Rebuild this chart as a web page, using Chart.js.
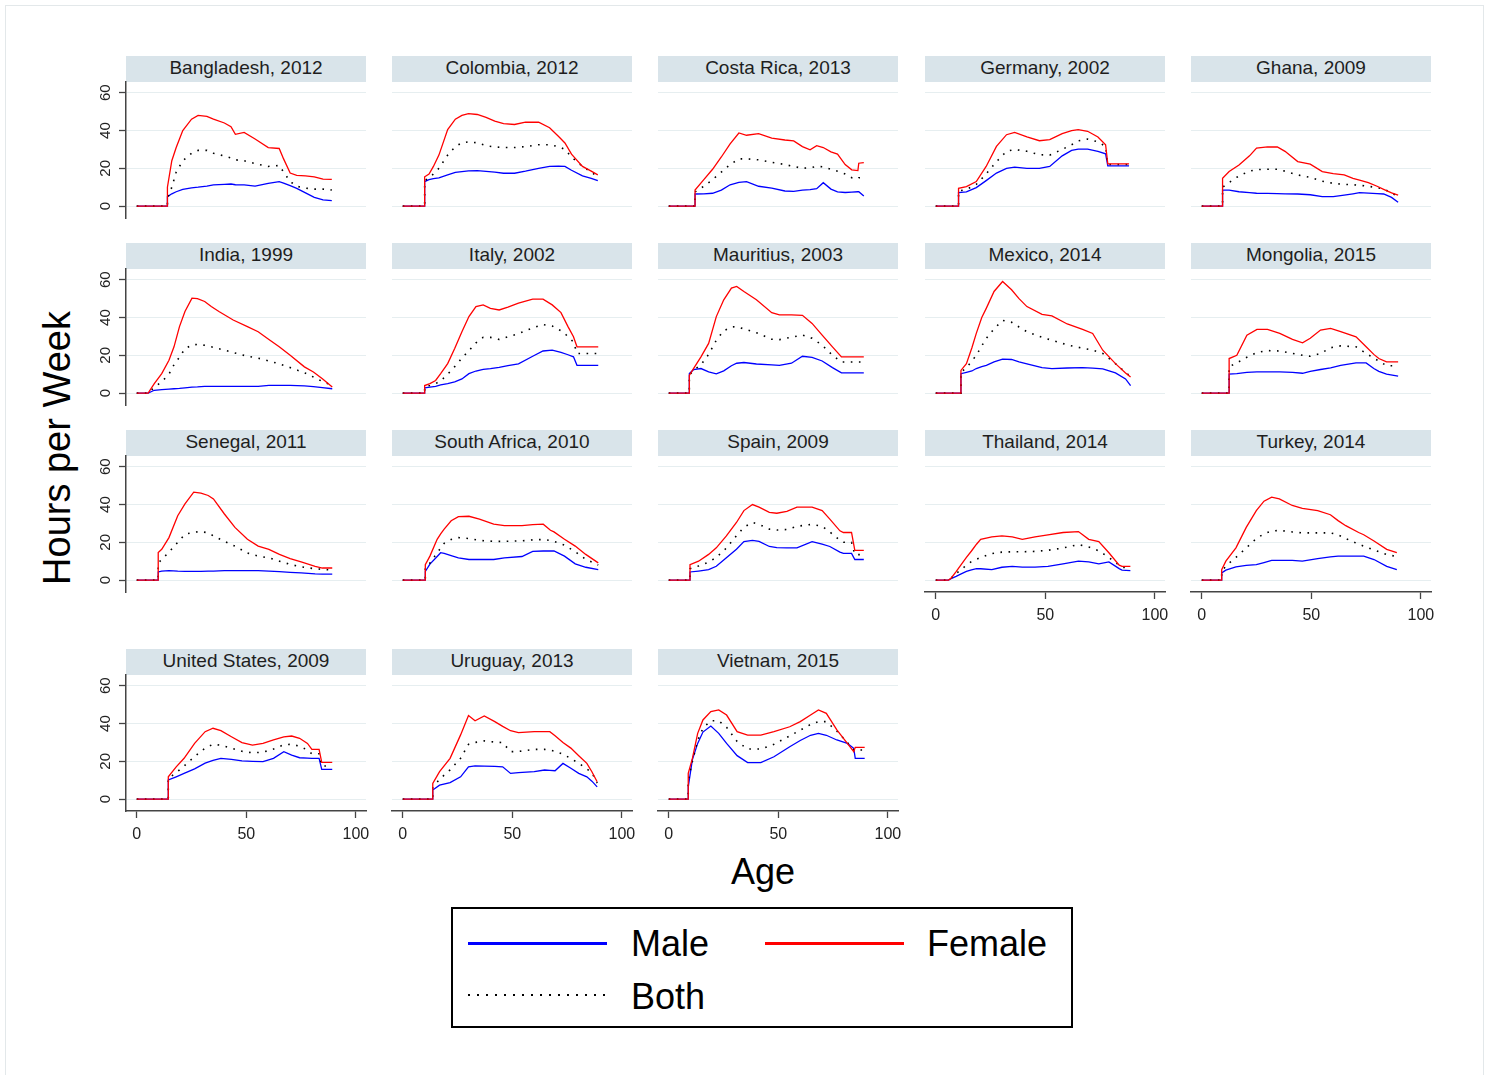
<!DOCTYPE html>
<html>
<head>
<meta charset="utf-8">
<script src="https://cdn.jsdelivr.net/npm/chart.js@4.4.0/dist/chart.umd.min.js"></script>
<style>
  body { margin: 0; background: #fff; font-family: "Liberation Sans", Arial, sans-serif; }
  #page { position: relative; width: 1491px; height: 1075px; overflow: hidden; }
  .frame { position: absolute; left: 5px; top: 5px; width: 1477px; height: 1100px; border: 1px solid #e3e8ea; }
  .strip { position: absolute; height: 26px; line-height: 24px; background: #d9e4ea; text-align: center; font-size: 19px; color: #1e1e1e; white-space: nowrap; }
  canvas { position: absolute; }
  .label { position: absolute; color: #000; white-space: nowrap; }
  .legend-box { position: absolute; left: 451px; top: 907px; width: 622px; height: 121px; border: 2px solid #000; box-sizing: border-box; }
  .sample { position: absolute; width: 139px; }
</style>
</head>
<body>
<div id="page">
  <div class="frame"></div>
  <div class="label" style="left:-143px;top:426px;width:400px;height:44px;line-height:44px;text-align:center;font-size:38px;transform:rotate(-90deg);">Hours per Week</div>
  <div class="label" style="left:663px;top:850px;width:200px;height:44px;line-height:44px;text-align:center;font-size:36px;">Age</div>
  <div class="legend-box"></div>
  <div class="sample" style="left:468px;top:942px;height:3px;background:#0000ff;"></div>
  <div class="sample" style="left:765px;top:942px;height:3px;background:#ff0000;"></div>
  <div class="sample" style="left:468px;top:994px;height:2px;background:repeating-linear-gradient(to right,#000 0 2px,transparent 2px 9px);"></div>
  <div class="label" style="left:631px;top:922px;height:44px;line-height:44px;font-size:36px;">Male</div>
  <div class="label" style="left:927px;top:922px;height:44px;line-height:44px;font-size:36px;">Female</div>
  <div class="label" style="left:631px;top:975px;height:44px;line-height:44px;font-size:36px;">Both</div>
</div>
<script>
// panel titles, row by row (5 per row)
const countries = [
  'Bangladesh, 2012', 'Colombia, 2012', 'Costa Rica, 2013', 'Germany, 2002', 'Ghana, 2009',
  'India, 1999', 'Italy, 2002', 'Mauritius, 2003', 'Mexico, 2014', 'Mongolia, 2015',
  'Senegal, 2011', 'South Africa, 2010', 'Spain, 2009', 'Thailand, 2014', 'Turkey, 2014',
  'United States, 2009', 'Uruguay, 2013', 'Vietnam, 2015'
];

// age points of each panel (same order as countries)
const ages = [
  [0, 14, 14, 16, 18, 21, 25, 28, 32, 35, 40, 43, 45, 49, 54, 60, 65, 67, 70, 73, 77, 81, 85, 89],
  [0, 10, 10, 12, 14, 16.5, 20.5, 24, 27, 30, 34, 38, 42, 46, 51, 56, 62, 67, 71, 74, 77, 82, 86, 89],
  [0, 12, 12, 16, 20, 24, 28, 32, 35.5, 41, 47, 53, 57, 61, 64.5, 67.5, 70.5, 74, 77, 80.5, 83.5, 86.3, 86.7, 89],
  [0, 10.4, 10.4, 14, 18.5, 23, 27.7, 32.3, 36, 41.6, 47.3, 52, 57.7, 62, 65, 69.3, 74, 77.5, 78.5, 88.2],
  [0, 9.5, 9.5, 12.5, 17, 21.8, 25, 30, 34.5, 38, 43.8, 49.5, 55, 60, 65, 69, 72, 76, 80, 83, 86.6, 89.6],
  [0, 5.2, 8, 11.4, 14.7, 17, 19.5, 22, 25.2, 27.7, 31, 34, 37.5, 44, 50.5, 55.4, 60.3, 65, 70, 76.5, 80.6, 84.7, 89.2],
  [0, 10, 10, 12.4, 15, 17.3, 20.5, 23.7, 27, 30.2, 33.4, 36.7, 40, 44, 48, 52.8, 59.3, 64, 68.2, 72.2, 75.4, 77.9, 79.5, 89.2],
  [0, 9.4, 9.4, 11.3, 14.7, 18.2, 21.7, 25.1, 28.6, 31, 34.3, 40, 47, 50.5, 56, 61, 65.4, 70, 74.7, 78.8, 89],
  [0, 11.5, 11.5, 14, 16.5, 18.5, 21, 23.1, 26.6, 30.5, 34.6, 38, 41.6, 48.5, 53, 60, 67, 71.6, 76.2, 82, 86.6, 88.9],
  [0, 12.5, 12.5, 16, 20.6, 25.2, 30, 35.6, 41.4, 46, 49.5, 54.2, 58.8, 63.4, 70.4, 75, 78.5, 80.8, 84.3, 89.6],
  [0, 9.8, 9.8, 11.4, 14.7, 18.7, 22, 26, 29.3, 32.6, 35, 40, 44.8, 50.5, 55.4, 60.3, 65.1, 70, 75, 81.4, 84.7, 89.2],
  [0, 10.3, 10.3, 12.4, 15.7, 17.3, 18.9, 22.1, 25.4, 30.2, 35, 41.5, 46.4, 54.4, 59.3, 64.1, 67.4, 69, 73.8, 78.7, 83.5, 89.2],
  [0, 9.7, 9.7, 13.6, 18.2, 21.7, 26.3, 30.9, 34.3, 38.2, 41.2, 45.9, 49.3, 53.9, 58.5, 65.4, 70, 73.5, 78.1, 79.7, 83.4, 84.9, 89],
  [0, 5.8, 7, 9.3, 11.6, 14, 16.3, 18.6, 20.5, 25.6, 30.2, 34.9, 39.5, 45.3, 51.2, 58.1, 65.1, 69.8, 74.4, 79, 83.7, 85, 88.8],
  [0, 9.1, 9.1, 11, 15.6, 20.3, 24.9, 28.4, 31.9, 35.4, 41.3, 45.9, 52.9, 58.7, 62.2, 65.7, 71.6, 73.9, 78.6, 84.4, 89],
  [0, 14.4, 14.4, 18, 21.6, 26.4, 31.2, 34.8, 38.4, 43.2, 48, 52.8, 57.6, 62.4, 67.1, 70.7, 74.3, 77.9, 79.9, 83.2, 84.4, 89.2],
  [0, 13.7, 13.7, 16.8, 21.6, 26.4, 30, 33, 37.2, 42, 45.6, 49.2, 52.8, 60, 64.7, 67.1, 69.5, 73.1, 76.7, 80.3, 84, 86.3, 88.7],
  [0, 8.9, 8.9, 10.8, 13.2, 15.6, 19.2, 22.8, 26.4, 31.2, 36, 42, 48, 55.2, 60, 64.7, 68.3, 71.9, 76.7, 81.5, 84.4, 85.1, 89.4]
];

const maleHours = [
  [0, 0, 5, 6.5, 7.6, 8.8, 9.7, 10, 10.6, 11.2, 11.5, 11.7, 11.3, 11.2, 10.6, 12, 13, 12.2, 10.8, 9.4, 7, 4.6, 3.3, 2.9],
  [0, 0, 13, 14, 14.5, 15, 16.5, 17.8, 18.3, 18.6, 18.8, 18.4, 18, 17.4, 17.4, 18.5, 20, 21, 21.2, 21, 19, 16, 14.7, 13.5],
  [0, 0, 6.4, 6.5, 6.8, 8.5, 11.3, 12.6, 13, 10.5, 9.5, 8, 7.8, 8.5, 8.7, 9.2, 12.4, 9, 7.5, 7.2, 7.4, 7.6, 7.6, 5.3],
  [0, 0, 7.1, 7.5, 9.8, 13.5, 17.5, 20, 20.6, 20, 20, 21, 26.6, 29.5, 30.2, 30.2, 29, 27.7, 21.3, 21.3],
  [0, 0, 8.5, 8.5, 7.6, 7.1, 6.8, 6.7, 6.6, 6.5, 6.4, 6, 5, 5, 5.8, 6.5, 7.1, 6.9, 6.6, 6.4, 4.6, 2],
  [0, 0, 1.5, 1.8, 2.1, 2.3, 2.5, 2.8, 3.2, 3.3, 3.6, 3.6, 3.6, 3.6, 3.6, 3.6, 4.1, 4.1, 4.1, 3.8, 3.4, 2.9, 2.3],
  [0, 0, 2.8, 3.2, 3.6, 4.3, 5, 6, 7.5, 10.3, 11.7, 12.6, 13, 13.6, 14.5, 15.5, 19.5, 22.3, 22.7, 21.5, 20.3, 19.2, 14.7, 14.7],
  [0, 0, 10.3, 12.4, 13, 11.2, 10.2, 11.8, 14.5, 15.8, 16.2, 15.4, 14.9, 14.7, 15.8, 19.5, 18.9, 17, 13.5, 10.7, 10.7],
  [0, 0, 10.3, 11, 11.7, 13, 14, 14.7, 16.5, 18, 17.8, 16.5, 15.5, 13.5, 13, 13.3, 13.5, 13.2, 12.8, 10.7, 7.5, 4],
  [0, 0, 10, 10.3, 11, 11.2, 11.2, 11.2, 11, 10.5, 11.5, 12.5, 13.3, 14.7, 16, 16, 13, 11.5, 10, 9],
  [0, 0, 4.3, 4.8, 5, 4.7, 4.6, 4.6, 4.6, 4.7, 4.8, 5, 5, 5, 5, 4.7, 4.5, 4.1, 3.8, 3.3, 3.2, 3.2],
  [0, 0, 4.6, 8.5, 12.5, 14.5, 14.2, 13, 11.8, 10.9, 10.9, 10.9, 11.8, 12.5, 15.2, 15.4, 15.4, 15.4, 12.7, 8.6, 6.8, 5.5],
  [0, 0, 4.3, 4.8, 5.5, 7.3, 11.8, 16.3, 20.4, 21, 20.5, 17.8, 17.2, 17.1, 17.1, 20.4, 19, 17.8, 14.8, 14.1, 14.1, 10.9, 10.9],
  [0, 0, 0.8, 2, 3.3, 4.6, 5.4, 6.1, 6, 5.5, 6.8, 7.3, 6.9, 6.9, 7.3, 8.6, 10, 9.6, 8.6, 9.6, 6.1, 5.3, 5],
  [0, 0, 3.8, 5.3, 7, 7.8, 8.2, 9.3, 10.4, 10.4, 10.4, 10, 11.4, 12.3, 12.7, 12.7, 12.7, 12.7, 10.9, 7.3, 5.5],
  [0, 0, 10.1, 11.8, 13.6, 16, 19, 20.5, 21.6, 21, 20.2, 20, 19.8, 21.6, 25.1, 23.3, 21.9, 21.7, 21.6, 21.6, 15.7, 15.7],
  [0, 0, 4.8, 7.4, 8.7, 11.8, 17.1, 17.6, 17.5, 17.3, 17.1, 13.6, 14, 14.5, 15.4, 15.2, 15, 18.9, 16.3, 13.6, 11.8, 9.5, 6.5],
  [0, 0, 6.5, 21, 29.5, 35.5, 38.7, 34.8, 29.5, 23, 19.3, 19.3, 22.4, 27.7, 31, 33.8, 34.8, 33.8, 31.3, 29.5, 26.9, 21.6, 21.6]
];

const femaleHours = [
  [0, 0, 10, 24, 31, 40, 46, 48, 47.5, 46, 44, 42, 38, 39, 35.5, 31, 30.5, 25, 17.5, 16.3, 16, 15.5, 14.3, 14.2],
  [0, 0, 15.5, 17, 21, 27, 40.5, 46, 48, 49, 48.5, 47, 45, 43.7, 43.2, 44.4, 44.4, 41.5, 37, 33.4, 27.5, 21, 18.5, 16.5],
  [0, 0, 8.5, 14, 19.5, 26, 33, 38.7, 37.5, 38.4, 36, 35, 34.5, 31.5, 29.8, 32, 31, 28.7, 27.5, 22, 19.2, 18.8, 22.7, 23],
  [0, 0, 9.4, 10.3, 13, 21, 31.6, 37.8, 39, 36.6, 34.6, 35.2, 38.4, 40, 40.5, 39.6, 36.6, 32.5, 22.4, 22.4],
  [0, 0, 14.7, 18.3, 21.8, 26.6, 30.7, 31.3, 31.3, 29, 23.6, 22.2, 18.3, 17.2, 16.5, 14.7, 13.8, 12.4, 10.5, 8.9, 7, 5.8],
  [0, 0, 5, 10.3, 17.4, 24.5, 35.2, 43.2, 50.3, 50, 48.5, 45.8, 43.2, 38.7, 35.2, 32.5, 28.4, 24.5, 20, 13.9, 11.2, 7.6, 3.2],
  [0, 0, 4, 5, 6.7, 10.3, 15.6, 23.6, 32.5, 40.5, 45.8, 46.7, 44.9, 44, 45.5, 47.6, 49.7, 49.7, 46.7, 42.6, 35.2, 29.8, 24.5, 24.5],
  [0, 0, 9.4, 13, 19.2, 26.3, 40.5, 49.4, 55.6, 56.5, 53.8, 49.4, 42.6, 41.4, 41.4, 41.2, 36.9, 30.7, 24.5, 19.2, 19.2],
  [0, 0, 12, 15.6, 24, 31.6, 40, 45, 53.8, 59.1, 54.7, 50, 45.8, 41.7, 40.9, 36.6, 33.7, 31.6, 22.7, 15.6, 10.7, 8.5],
  [0, 0, 18.3, 20, 30.7, 33.7, 33.7, 31.6, 28.4, 26.6, 29, 33.4, 34.3, 32.5, 29.8, 24.5, 20.5, 18.3, 16.5, 16.5],
  [0, 0, 14.6, 16.3, 22.5, 34.1, 40.4, 46.6, 46, 44.8, 43, 35, 27.9, 21.6, 18, 16.3, 13.6, 11.4, 9.6, 7.3, 6.4, 6.4],
  [0, 0, 8.2, 12.7, 21.6, 24.5, 27, 31.4, 33.6, 33.8, 32.3, 29.6, 28.8, 28.8, 29.4, 29.6, 26.4, 25.5, 21.6, 18, 13.6, 9.1],
  [0, 0, 8.2, 10, 13.6, 17.1, 23.4, 30.5, 36.8, 40, 38.6, 35.9, 35.4, 36.4, 38.6, 38.6, 36.8, 32.3, 26.1, 25.2, 25.2, 15.7, 15.7],
  [0, 0, 1, 4.5, 8.2, 12, 15.4, 19, 21.6, 22.9, 23.4, 22.9, 21.6, 22.9, 23.9, 25.2, 25.7, 21.6, 20.4, 14.5, 7.9, 7.3, 7.3],
  [0, 0, 5.5, 10, 17.1, 27.9, 36.8, 41.8, 43.9, 43, 39.5, 38, 36.8, 34.6, 31.5, 28.8, 25.2, 24, 20.7, 16.3, 14.5],
  [0, 0, 11.8, 17.1, 21.6, 29.5, 35.7, 37.5, 36.2, 33, 29.9, 28.6, 29.5, 31.3, 33, 33.4, 32.2, 29.5, 26.3, 26.3, 19.4, 19.4],
  [0, 0, 8.3, 14.5, 21.6, 34, 44.2, 41.5, 44, 41, 38.5, 36.2, 35.2, 35.7, 35.7, 35.7, 33.5, 30, 27, 23, 18.9, 14.5, 9.2],
  [0, 0, 13.6, 21.6, 34.8, 41.9, 46.3, 47.2, 44.5, 35.7, 33.9, 33.9, 35.7, 38.3, 41, 44.5, 47.2, 45.4, 36.6, 29.5, 25.1, 27.4, 27.4]
];

const bothHours = [
  [0, 0, 4, 10, 18, 24, 28, 29.5, 29.5, 28, 26.5, 25.5, 24.5, 24, 22.5, 21, 21.5, 18, 13, 10.5, 9.5, 9, 9, 8.5],
  [0, 0, 13.5, 15, 17, 20, 27, 31.5, 33.5, 34, 33.5, 32, 31.3, 31, 31, 31.5, 32.5, 32.5, 31.5, 30, 26, 21, 18, 15.5],
  [0, 0, 7.5, 10.5, 14, 18, 22, 25, 25, 24.5, 23.2, 22, 21, 20, 20.3, 21, 20.8, 19.5, 18.5, 17, 15, 14.5, 15, 15],
  [0, 0, 8, 8.8, 11.5, 17, 23.5, 29, 30, 29, 27.2, 27, 30, 32.5, 34.5, 35.5, 34, 31.6, 22, 22],
  [0, 0, 10, 12.5, 16, 18.5, 19.3, 19.5, 19.5, 18.5, 16.5, 15.2, 13.2, 12, 11.5, 11.3, 11, 10.5, 9.8, 9, 7, 5],
  [0, 0, 3, 6, 10, 15, 19, 23.5, 25.5, 25.8, 25.3, 24.5, 23.5, 21.5, 19.5, 18.5, 17, 15.5, 13.5, 10.8, 8.5, 6.2, 4],
  [0, 0, 3.5, 4, 5, 6.5, 10, 14, 18.5, 22.5, 26.6, 29.5, 29.5, 28.4, 29.8, 31.5, 34.5, 36.3, 35.5, 33, 30, 27, 21, 21],
  [0, 0, 9.5, 12, 15, 20.5, 28, 33, 35, 35.2, 34, 32, 28.5, 28.3, 29.6, 30.7, 29, 25.4, 20, 16.5, 16.5],
  [0, 0, 11, 13.5, 17, 20, 25, 29, 34, 38.5, 37.5, 35, 32.5, 29.5, 28, 25.5, 23.8, 22.8, 21, 15.6, 11, 8.8],
  [0, 0, 14, 16, 19, 21.5, 22.5, 22.3, 21, 20, 19.5, 21, 24, 25, 24.5, 21, 18.5, 17, 14.5, 14.5],
  [0, 0, 9, 11, 14.8, 20, 24.3, 25.3, 25.7, 25, 23.4, 20.5, 18, 14.3, 12.7, 11.8, 10, 8.3, 7, 6, 5.7, 5.3],
  [0, 0, 6, 9, 14.5, 17, 19.5, 21.5, 22.5, 22, 21, 20.5, 20.5, 20.8, 21.3, 21.5, 21, 20.5, 18.5, 15, 11, 8],
  [0, 0, 6, 7.5, 9.5, 12, 17, 23.5, 28, 30.5, 29.5, 27, 26.5, 26.8, 28.5, 29.5, 28.5, 25.5, 21, 20, 20, 13.5, 13.5],
  [0, 0, 1, 3.5, 5.5, 8, 9.8, 11, 12, 14, 14.8, 15, 15, 15.2, 15.8, 17, 18.8, 17.5, 15.5, 12, 7.8, 6.8, 6.5],
  [0, 0, 4.5, 7.5, 12, 17, 22, 24.5, 26, 26.3, 25.5, 25, 25, 25, 24, 22, 19, 18, 16, 13.5, 12.5],
  [0, 0, 11, 14, 17.5, 22.5, 27, 29, 28.5, 27, 25.3, 24.5, 24.8, 26.5, 28.8, 29, 28, 26, 24, 24, 17.5, 17.5],
  [0, 0, 6, 10.5, 15.5, 21.6, 29, 30, 30.8, 30.2, 29.9, 25.1, 25.2, 26.3, 26.3, 26, 25.3, 23.8, 21.5, 19, 16, 14, 8.5],
  [0, 0, 10, 20, 31, 37.5, 41.5, 41.5, 38, 30.5, 26.5, 26.5, 29, 33.5, 36.5, 39.5, 41, 41, 36, 30, 26, 26, 26]
];

const xTicks = [0, 50, 100];
const yTicks = [0, 20, 40, 60];

// panel geometry (page pixels)
const colLeft = [126, 392, 658, 925, 1191];
const stripTop = [56, 243, 430, 649];
const plotW = 240, plotH = 136, stripH = 26;
const axisW = 45, axisH = 45, padTop = 20, padRight = 15;
const fontFamily = '"Liberation Sans", Arial, sans-serif';

const page = document.getElementById('page');

function toPoints(xs, ys) {
  return xs.map((x, k) => ({ x: x, y: ys[k] }));
}

countries.forEach((name, i) => {
  const row = Math.floor(i / 5);
  const col = i % 5;
  const firstCol = col === 0;
  const bottom = i >= 13; // last panel in its column gets the age axis

  const strip = document.createElement('div');
  strip.className = 'strip';
  strip.style.left = colLeft[col] + 'px';
  strip.style.top = stripTop[row] + 'px';
  strip.style.width = plotW + 'px';
  strip.textContent = name;
  page.appendChild(strip);

  const canvas = document.createElement('canvas');
  const w = axisW + plotW + padRight;
  const h = padTop + plotH + axisH;
  canvas.width = w;
  canvas.height = h;
  canvas.style.width = w + 'px';
  canvas.style.height = h + 'px';
  canvas.style.left = (colLeft[col] - axisW) + 'px';
  canvas.style.top = (stripTop[row] + stripH - padTop) + 'px';
  page.appendChild(canvas);

  new Chart(canvas, {
    type: 'line',
    data: {
      datasets: [
        { label: 'Female', data: toPoints(ages[i], femaleHours[i]), borderColor: '#ff0000', borderWidth: 1.3, order: 0 },
        { label: 'Both', data: toPoints(ages[i], bothHours[i]), borderColor: '#000000', borderWidth: 1.6, borderDash: [1.6, 6.5], order: 1 },
        { label: 'Male', data: toPoints(ages[i], maleHours[i]), borderColor: '#0000ff', borderWidth: 1.3, order: 2 }
      ]
    },
    options: {
      responsive: false,
      animation: false,
      events: [],
      layout: { padding: { top: padTop, right: padRight, left: 0, bottom: 0 } },
      elements: { point: { radius: 0 }, line: { tension: 0 } },
      plugins: { legend: { display: false }, tooltip: { enabled: false } },
      scales: {
        x: {
          type: 'linear',
          min: -4.9,
          max: 104.6,
          afterBuildTicks: (s) => { s.ticks = xTicks.map((v) => ({ value: v })); },
          afterFit: (s) => { s.height = axisH; },
          grid: { display: bottom, drawOnChartArea: false, drawTicks: bottom, tickLength: 7, tickColor: '#444', tickWidth: 1.3 },
          border: { display: bottom, color: '#444', width: 1.5 },
          ticks: { display: bottom, color: '#222', font: { family: fontFamily, size: 16 }, padding: 7, maxRotation: 0, autoSkip: false }
        },
        y: {
          min: -6.3,
          max: 65.7,
          afterBuildTicks: (s) => { s.ticks = yTicks.map((v) => ({ value: v })); },
          afterFit: (s) => { s.width = axisW; },
          grid: { color: '#e6eef0', lineWidth: 1, drawTicks: firstCol, tickLength: 7, tickColor: '#444', tickWidth: 1.3 },
          border: { display: firstCol, color: '#444', width: 1.5 },
          ticks: { display: firstCol, color: '#222', font: { family: fontFamily, size: 15 }, minRotation: 90, maxRotation: 90, crossAlign: 'center', padding: 5 }
        }
      }
    }
  });
});
</script>
</body>
</html>
